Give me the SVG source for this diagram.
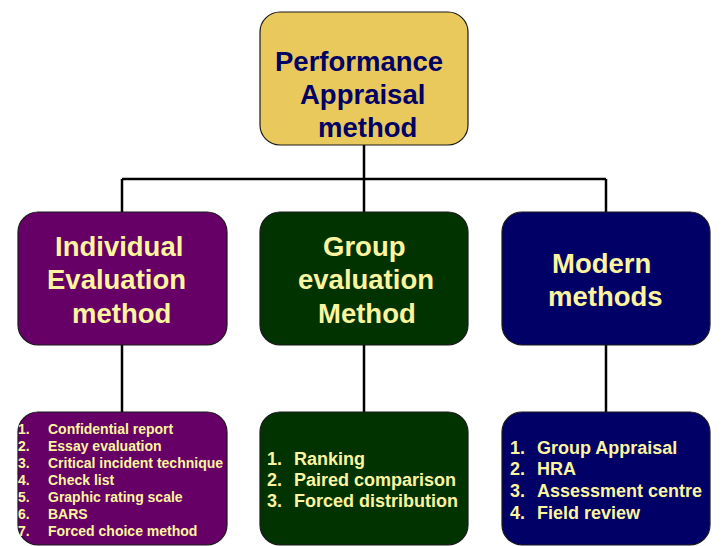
<svg xmlns="http://www.w3.org/2000/svg" width="728" height="546" viewBox="0 0 728 546">
<style>
.box{stroke:#1a1a1a;stroke-width:1.2}
.t{font-family:"Liberation Sans",Arial,sans-serif;font-weight:bold}
.big{font-size:27.5px}
.y{fill:#FCF5A0}
.n{fill:#000066}
.sm{font-size:14px}
.md{font-size:18px}
.lg{font-size:18px}
.conn{stroke:#000;stroke-width:2.5;fill:none}
</style>
<rect width="728" height="546" fill="#fff"/>
<g id="connectors">
<path class="conn" d="M364 145V179M122 179H606M122 179V212M364 179V212M606 179V212"/>
<path class="conn" d="M122 345V412M364 345V412M606 345V412"/>
</g>
<g id="root">
<rect class="box" x="260" y="12" width="208" height="133" rx="20" fill="#EAC95C"/>
<text class="t big n" x="275" y="71">Performance</text>
<text class="t big n" x="300" y="104">Appraisal</text>
<text class="t big n" x="318" y="137">method</text>
</g>
<g id="individual">
<rect class="box" x="18" y="212" width="209" height="133" rx="20" fill="#660066"/>
<text class="t big y" x="55" y="256">Individual</text>
<text class="t big y" x="47" y="289">Evaluation</text>
<text class="t big y" x="72" y="323">method</text>
</g>
<g id="group">
<rect class="box" x="260" y="212" width="208" height="133" rx="20" fill="#003300"/>
<text class="t big y" x="323" y="256">Group</text>
<text class="t big y" x="298" y="289">evaluation</text>
<text class="t big y" x="318" y="323">Method</text>
</g>
<g id="modern">
<rect class="box" x="502" y="212" width="208" height="133" rx="20" fill="#000066"/>
<text class="t big y" x="552" y="273">Modern</text>
<text class="t big y" x="548" y="306">methods</text>
</g>
<g id="individual-list">
<rect class="box" x="18" y="412" width="209" height="133" rx="20" fill="#660066"/>
<g class="t sm y">
<text x="18" y="434">1.</text><text x="48" y="434">Confidential report</text>
<text x="18" y="451">2.</text><text x="48" y="451">Essay evaluation</text>
<text x="18" y="468">3.</text><text x="48" y="468">Critical incident technique</text>
<text x="18" y="485">4.</text><text x="48" y="485">Check list</text>
<text x="18" y="502">5.</text><text x="48" y="502">Graphic rating scale</text>
<text x="18" y="519">6.</text><text x="48" y="519">BARS</text>
<text x="18" y="536">7.</text><text x="48" y="536">Forced choice method</text>
</g>
</g>
<g id="group-list">
<rect class="box" x="260" y="412" width="208" height="133" rx="20" fill="#003300"/>
<g class="t md y">
<text x="267" y="465">1.</text><text x="294" y="465">Ranking</text>
<text x="267" y="486">2.</text><text x="294" y="486">Paired comparison</text>
<text x="267" y="507">3.</text><text x="294" y="507">Forced distribution</text>
</g>
</g>
<g id="modern-list">
<rect class="box" x="502" y="412" width="208" height="133" rx="20" fill="#000066"/>
<g class="t lg y">
<text x="510" y="454">1.</text><text x="537" y="454">Group Appraisal</text>
<text x="510" y="475">2.</text><text x="537" y="475">HRA</text>
<text x="510" y="497">3.</text><text x="537" y="497">Assessment centre</text>
<text x="510" y="519">4.</text><text x="537" y="519">Field review</text>
</g>
</g>
</svg>
